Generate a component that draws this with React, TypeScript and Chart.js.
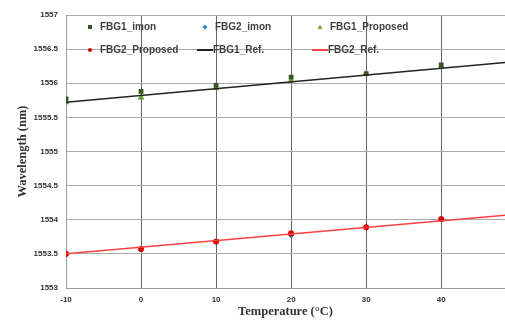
import React, { useEffect, useRef } from "react";
import { Chart, registerables } from "chart.js";

Chart.register(...registerables);

const temps = [-10, 0, 10, 20, 30, 40];
const fbg1Imon = [1555.77, 1555.88, 1555.97, 1556.09, 1556.14, 1556.27];
const fbg2Imon = [1553.5, 1553.57, 1553.68, 1553.77, 1553.89, 1554.01];
const fbg1Proposed = [1555.72, 1555.79, 1555.93, 1556.04, 1556.14, 1556.24];
const fbg2Proposed = [1553.5, 1553.57, 1553.68, 1553.8, 1553.89, 1554.01];
const refTemps = [-10, 50];
const fbg1Ref = [1555.72, 1556.32];
const fbg2Ref = [1553.5, 1554.08];
const xTicks = [-10, 0, 10, 20, 30, 40];

const pts = (xs: number[], ys: number[]) => xs.map((x, i) => ({ x, y: ys[i] }));

const legendItems = [
  { label: "FBG1_imon", kind: "rect", color: "#375623" },
  { label: "FBG2_imon", kind: "rectRot", color: "#2e86c1" },
  { label: "FBG1_Proposed", kind: "triangle", color: "#70a830" },
  { label: "FBG2_Proposed", kind: "circle", color: "#e00000" },
  { label: "FBG1_Ref.", kind: "line", color: "#222222" },
  { label: "FBG2_Ref.", kind: "line", color: "#ff4040" },
];

const legendPlugin = {
  id: "customLegend",
  afterDraw(chart: any) {
    const ctx = chart.ctx;
    const cols = [90, 205, 320];
    const rows = [27, 50];
    ctx.save();
    ctx.font = "bold 10px 'Liberation Sans', sans-serif";
    ctx.textBaseline = "middle";
    legendItems.forEach((it, i) => {
      const cx = cols[i % 3];
      const cy = rows[Math.floor(i / 3)];
      ctx.fillStyle = it.color;
      ctx.strokeStyle = it.color;
      if (it.kind === "line") {
        ctx.lineWidth = 2;
        ctx.beginPath();
        ctx.moveTo(cx - 8, cy);
        ctx.lineTo(cx + 8, cy);
        ctx.stroke();
      } else if (it.kind === "rect") {
        ctx.fillRect(cx - 2, cy - 2, 4, 4);
      } else if (it.kind === "rectRot") {
        ctx.beginPath();
        ctx.moveTo(cx, cy - 2.5);
        ctx.lineTo(cx + 2.5, cy);
        ctx.lineTo(cx, cy + 2.5);
        ctx.lineTo(cx - 2.5, cy);
        ctx.closePath();
        ctx.fill();
      } else if (it.kind === "triangle") {
        ctx.beginPath();
        ctx.moveTo(cx, cy - 2.5);
        ctx.lineTo(cx + 2.5, cy + 2);
        ctx.lineTo(cx - 2.5, cy + 2);
        ctx.closePath();
        ctx.fill();
      } else {
        ctx.beginPath();
        ctx.arc(cx, cy, 2, 0, Math.PI * 2);
        ctx.fill();
      }
      ctx.fillStyle = "#404040";
      const tx = it.kind === "line" ? cx + 8 : cx + 10;
      ctx.fillText(it.label, tx, cy);
    });
    ctx.restore();
  },
};

export default function App() {
  const ref = useRef<HTMLCanvasElement>(null);
  useEffect(() => {
    const chart = new Chart(ref.current!, {
      type: "scatter",
      data: {
        datasets: [
          {
            label: "FBG2_Proposed",
            data: pts(temps, fbg2Proposed),
            pointStyle: "circle",
            pointRadius: 2.8,
            backgroundColor: "#e00000",
            borderColor: "#c00000",
            borderWidth: 0.5,
            order: 1,
          },
          {
            label: "FBG2_imon",
            data: pts(temps, fbg2Imon),
            pointStyle: "rectRot",
            pointRadius: 3,
            backgroundColor: "#2e86c1",
            borderColor: "#2e86c1",
            borderWidth: 0,
            order: 2,
          },
          {
            label: "FBG1_imon",
            data: pts(temps, fbg1Imon),
            pointStyle: "rect",
            pointRadius: 3.4,
            backgroundColor: "#375623",
            borderColor: "#375623",
            borderWidth: 0,
            order: 3,
          },
          {
            label: "FBG1_Proposed",
            data: pts(temps, fbg1Proposed),
            pointStyle: "triangle",
            pointRadius: 3.3,
            backgroundColor: "#70a830",
            borderColor: "#4a7a20",
            borderWidth: 0.5,
            order: 4,
          },
          {
            type: "line",
            label: "FBG1_Ref.",
            data: pts(refTemps, fbg1Ref),
            showLine: true,
            borderColor: "#222222",
            borderWidth: 1.5,
            pointRadius: 0,
            order: 0,
          },
          {
            type: "line",
            label: "FBG2_Ref.",
            data: pts(refTemps, fbg2Ref),
            showLine: true,
            borderColor: "#ff4040",
            borderWidth: 1.5,
            pointRadius: 0,
            order: 0,
          },
        ] as any,
      },
      options: {
        animation: false,
        responsive: false,
        layout: { autoPadding: false, padding: { top: 15, right: 0, left: 0, bottom: 0 } },
        plugins: { legend: { display: false }, tooltip: { enabled: false } },
        scales: {
          x: {
            type: "linear",
            min: -10,
            max: 48.5,
            afterBuildTicks: (s: any) => {
              s.ticks = xTicks.map((v) => ({ value: v }));
            },
            afterFit: (s: any) => {
              s.height = 34;
              s.paddingLeft = 0;
              s.paddingRight = 0;
            },
            grid: { color: "#666666", lineWidth: 1, drawTicks: false },
            border: { color: "#999999", width: 1 },
            ticks: {
              padding: 7,
              color: "#333333",
              font: { family: "'Liberation Sans', sans-serif", size: 8, weight: "bold" },
              callback: (v: any) => String(v),
            },
            title: {
              display: true,
              text: "Temperature (°C)",
              color: "#333333",
              font: { family: "'Liberation Serif', serif", size: 12.5, weight: "bold" },
              padding: { top: 0, bottom: 3 },
            },
          },
          y: {
            type: "linear",
            min: 1553,
            max: 1557,
            afterFit: (s: any) => {
              s.width = 66;
              s.paddingTop = 0;
              s.paddingBottom = 0;
            },
            grid: { color: "#aaaaaa", lineWidth: 1, drawTicks: false },
            border: { color: "#999999", width: 1 },
            ticks: {
              stepSize: 0.5,
              padding: 8,
              color: "#333333",
              font: { family: "'Liberation Sans', sans-serif", size: 8, weight: "bold" },
              callback: (v: any) => String(v),
            },
            title: {
              display: true,
              text: "Wavelength (nm)",
              color: "#333333",
              font: { family: "'Liberation Serif', serif", size: 12.5, weight: "bold" },
              padding: { top: 15, bottom: 0 },
            },
          },
        },
      },
      plugins: [legendPlugin],
    });
    return () => chart.destroy();
  }, []);
  return (
    <div style={{ position: "absolute", left: 0, top: 0, width: 505, height: 322, background: "#fff" }}>
      <canvas ref={ref} width={505} height={322} style={{ width: 505, height: 322 }} />
    </div>
  );
}
